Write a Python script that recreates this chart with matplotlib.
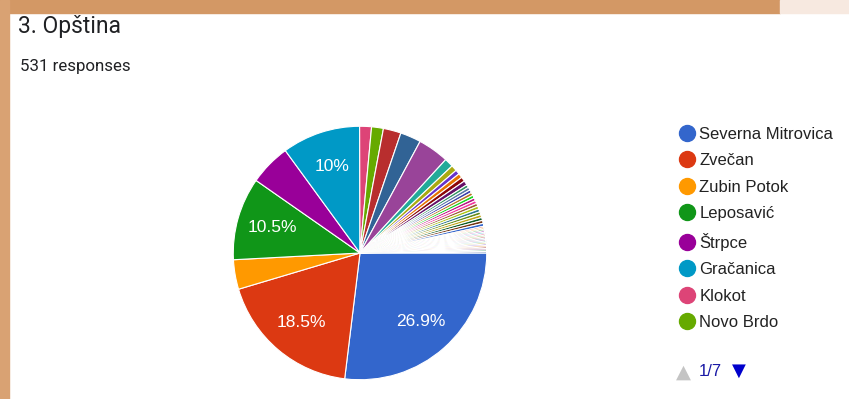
import matplotlib.pyplot as plt
from matplotlib.lines import Line2D
from matplotlib.patches import Rectangle

# responses per municipality (531 total), in slice order
municipalities = [
    "Severna Mitrovica", "Zvečan", "Zubin Potok", "Leposavić", "Štrpce",
    "Gračanica", "Klokot", "Novo Brdo", "Ranilug", "Parteš", "Priština",
    "Kosovo Polje", "Obilić", "Lipljan", "Gnjilane", "Kosovska Kamenica",
    "Vučitrn", "Peć", "Prizren", "Uroševac", "Istok", "Klina", "Đakovica",
    "Orahovac", "Dečani", "Srbica", "Podujevo", "Kačanik", "Štimlje",
    "Suva Reka", "Mališevo", "Glogovac", "Dragaš", "Vitina", "Beograd",
    "Niš", "Kraljevo", "Kruševac", "Novi Sad", "Kragujevac", "Vranje",
    "Leskovac", "Raška", "Novi Pazar", "Čačak", "Jagodina", "Bujanovac",
    "Kuršumlija", "Prokuplje", "Brus",
]
responses = [
    143, 98, 20, 56, 28, 53, 8, 8, 12, 14, 21, 6, 4,
    3, 3, 3, 3, 2, 2, 2, 2, 2, 2, 2, 2, 2, 2, 2, 2, 2, 2, 2,
    1, 1, 1, 1, 1, 1, 1, 1, 1, 1, 1, 1, 1, 1, 1, 1, 1, 1,
]
total = 531
title = "3. Opština"
subtitle = f"{total} responses"
legend_shown = 8
page_label = "1/7"

palette = [
    "#3366cc", "#dc3912", "#ff9900", "#109618", "#990099", "#0099c6",
    "#dd4477", "#66aa00", "#b82e2e", "#316395", "#994499", "#22aa99",
    "#aaaa11", "#6633cc", "#e67300", "#8b0707", "#651067", "#329262",
    "#5574a6", "#3b3eac", "#b77322", "#16d620", "#b91383", "#f4359e",
    "#9c5935", "#a9c413", "#2a778d", "#668d1c", "#bea413", "#0c5922",
    "#743411",
]
colors = [palette[i % len(palette)] for i in range(len(responses))]

fig = plt.figure(figsize=(8.49, 3.99), dpi=100)
fig.patch.set_facecolor("white")

# textured photo border behind the card (approximated with flat colours)
fig.patches.append(Rectangle((0, 386 / 399), 780 / 849, 13 / 399,
                             transform=fig.transFigure, color="#d39865", zorder=0))
fig.patches.append(Rectangle((780 / 849, 386 / 399), 69 / 849, 13 / 399,
                             transform=fig.transFigure, color="#f7e9e0", zorder=0))
fig.patches.append(Rectangle((0, 0), 9 / 849, 399 / 399,
                             transform=fig.transFigure, color="#d9a273", zorder=0))

fig.text(18 / 849, 1 - 26 / 399, title, family="Roboto", fontsize=16.5,
         color="#202124", va="center", ha="left")
fig.text(20 / 849, 1 - 67 / 399, subtitle, family="Roboto", fontsize=12.2,
         color="#202124", va="center", ha="left")

ax = fig.add_axes([232 / 849, 18 / 399, 256 / 849, 256 / 399])


def pct_label(p):
    return f"{p:.1f}%".replace(".0%", "%") if p >= 9.5 else ""


wedges, _, autotexts = ax.pie(
    responses, colors=colors, startangle=0, counterclock=False,
    autopct=pct_label, pctdistance=0.72, radius=1,
    wedgeprops=dict(edgecolor="white", linewidth=0.8),
    textprops=dict(color="white", fontsize=12.5, family="Liberation Sans"),
)
ax.set_xlim(-1.01, 1.01)
ax.set_ylim(-1.01, 1.01)

handles = [
    Line2D([], [], marker="o", linestyle="", markersize=11.5,
           markerfacecolor=colors[i], markeredgecolor=colors[i])
    for i in range(legend_shown)
]
fig.legend(handles, municipalities[:legend_shown], loc="upper left",
           bbox_to_anchor=(671 / 849, 1 - 120 / 399), frameon=False,
           prop=dict(family="Liberation Sans", size=12),
           labelcolor="#222222", handletextpad=0.2, handlelength=1.1,
           labelspacing=0.69, borderaxespad=0)

fig.text(683 / 849, 1 - 372 / 399, "▲", color="#c4c4c4", fontsize=14,
         va="center", ha="center", family="DejaVu Sans")
fig.text(699 / 849, 1 - 371 / 399, page_label, color="#1a1aa6", fontsize=12,
         va="center", ha="left", family="Liberation Sans")
fig.text(739 / 849, 1 - 371 / 399, "▼", color="#0000cc", fontsize=13,
         va="center", ha="center", family="DejaVu Sans")

plt.savefig("out.png", dpi=100, facecolor=fig.get_facecolor())
plt.close()
